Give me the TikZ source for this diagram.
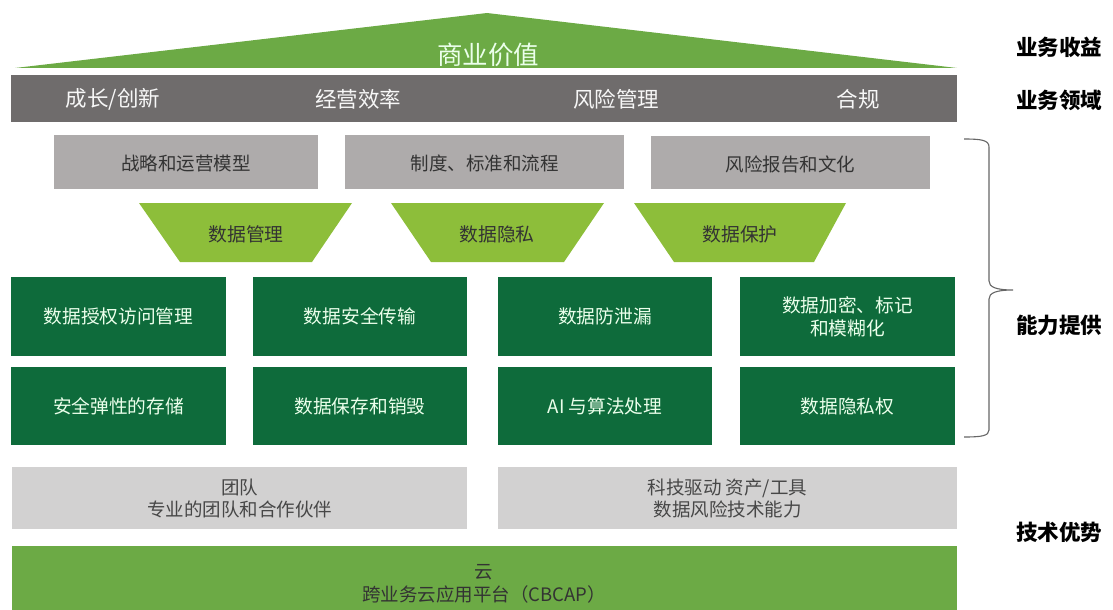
\documentclass[tikz,border=0pt]{standalone}
\usepackage{fontspec}
\setmainfont{Noto Sans CJK SC}
\usetikzlibrary{fit}
\definecolor{roofgreen}{HTML}{6CAA45}
\definecolor{bargray}{HTML}{6F6C6C}
\definecolor{boxgray}{HTML}{AEABAB}
\definecolor{lightgray2}{HTML}{D2D1D1}
\definecolor{lime}{HTML}{8DBE3A}
\definecolor{darkgreen}{HTML}{0E6B3B}
\definecolor{txtdark}{HTML}{333333}
\begin{document}
\begin{tikzpicture}[x=1pt,y=-1pt,
  blk/.style={inner sep=0pt, outer sep=0pt, align=center},
  bar/.style={blk, fill=bargray, text=white!94!gray, font=\fontsize{21.5}{25}\selectfont},
  upbox/.style={blk, fill=boxgray, text=txtdark, font=\fontsize{18.5}{22}\selectfont},
  dgbox/.style={blk, fill=darkgreen, text=white!92!green, font=\fontsize{18.7}{23}\selectfont},
  lowbox/.style={blk, fill=lightgray2, text=txtdark!90!white, font=\fontsize{18.5}{22}\selectfont},
  cloud/.style={blk, fill=roofgreen, text=txtdark, font=\fontsize{18.5}{22.5}\selectfont},
  trap/.style={fill=lime},
  traptext/.style={text=txtdark, font=\fontsize{18.8}{22}\selectfont},
  barlabel/.style={text=white!94!gray, font=\fontsize{21.5}{25}\selectfont},
  sidelabel/.style={text=black, font=\fontsize{21.5}{25}\selectfont\bfseries},
  bracestyle/.style={draw=gray!80!black, line width=1.1pt}
]
\useasboundingbox (0,0) rectangle (1113,610);

% roof
\fill[roofgreen] (15,68) -- (487,13) -- (957,68) -- cycle;
\node[text=green!8!white, font=\fontsize{25.5}{30}\selectfont] (roof) at (488,55) {商业价值};

% business domain bar
\node[bar, fit={(11,75) (957,122)}] (domain) {};
\node[barlabel] (d1) at (113,99) {成长/创新};
\node[barlabel] (d2) at (358,99) {经营效率};
\node[barlabel] (d3) at (616,99) {风险管理};
\node[barlabel] (d4) at (858,99) {合规};

% upper gray boxes
\node[upbox, fit={(54,135) (318,189)}] (u1) {};
\node[upbox] at ([yshift=-1.5pt]u1.center) {战略和运营模型};
\node[upbox, fit={(345,135) (624,189)}] (u2) {};
\node[upbox] at ([yshift=-1.5pt]u2.center) {制度、标准和流程};
\node[upbox, fit={(651,136) (930,189)}] (u3) {};
\node[upbox] at ([yshift=-1.5pt]u3.center) {风险报告和文化};

% trapezoids
\fill[trap] (139,203) -- (352,203) -- (312,262) -- (180,262) -- cycle;
\node[traptext] (t1) at (246,234) {数据管理};
\fill[trap] (391,203) -- (604,203) -- (564,262) -- (431,262) -- cycle;
\node[traptext] (t2) at (497,234) {数据隐私};
\fill[trap] (634,203) -- (846,203) -- (814,262) -- (674,262) -- cycle;
\node[traptext] (t3) at (740,234) {数据保护};

% dark green capability boxes
\node[dgbox, fit={(11,277) (226,356)}] (g11) {};
\node[dgbox] at (g11.center) {数据授权访问管理};
\node[dgbox, fit={(253,277) (467,356)}] (g12) {};
\node[dgbox] at (g12.center) {数据安全传输};
\node[dgbox, fit={(498,277) (712,356)}] (g13) {};
\node[dgbox] at (g13.center) {数据防泄漏};
\node[dgbox, fit={(740,277) (955,356)}] (g14) {};
\node[dgbox] at (g14.center) {数据加密、标记\\和模糊化};

\node[dgbox, fit={(11,367) (226,445)}] (g21) {};
\node[dgbox] at (g21.center) {安全弹性的存储};
\node[dgbox, fit={(253,367) (467,445)}] (g22) {};
\node[dgbox] at (g22.center) {数据保存和销毁};
\node[dgbox, fit={(498,367) (712,445)}] (g23) {};
\node[dgbox] at (g23.center) {AI 与算法处理};
\node[dgbox, fit={(740,367) (955,445)}] (g24) {};
\node[dgbox] at (g24.center) {数据隐私权};

% lower gray boxes
\node[lowbox, fit={(12,467) (467,529)}] (l1) {};
\node[lowbox] at (l1.center) {团队\\专业的团队和合作伙伴};
\node[lowbox, fit={(498,467) (957,529)}] (l2) {};
\node[lowbox] at (l2.center) {科技驱动 资产/工具\\数据风险技术能力};

% cloud platform
\node[cloud, fit={(12,546) (957,610)}] (cl) {};
\node[cloud] at (484,584) {云\\跨业务云应用平台（CBCAP）};

% brace
\draw[bracestyle] (964,139) .. controls (981,139) and (989,140) .. (989,147)
  -- (989,281) .. controls (989,287) and (996,290) .. (1013,290)
  .. controls (996,290) and (989,293) .. (989,299)
  -- (989,430) .. controls (989,436) and (981,437) .. (964,437);

% side labels
\node[sidelabel] (s1) at (1059,47) {业务收益};
\node[sidelabel] (s2) at (1059,100) {业务领域};
\node[sidelabel] (s3) at (1059,325) {能力提供};
\node[sidelabel] (s4) at (1059,532) {技术优势};
\end{tikzpicture}
\end{document}
